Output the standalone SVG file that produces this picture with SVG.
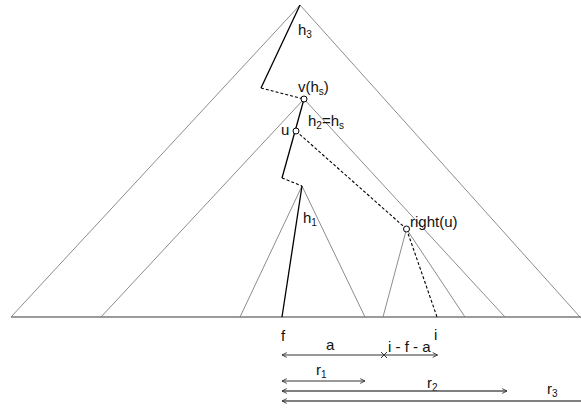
<svg xmlns="http://www.w3.org/2000/svg" width="581" height="410" viewBox="0 0 581 410">
<defs>
<style>
.tri{fill:none;stroke:#8c8c8c;stroke-width:1}
.base{stroke:#7a7a7a;stroke-width:1.5}
.path{fill:none;stroke:#000;stroke-width:1.3}
.dash{fill:none;stroke:#000;stroke-width:1.1;stroke-dasharray:3,2}
.node{fill:#fff;stroke:#000;stroke-width:1}
.arr{stroke:#333;stroke-width:1;fill:none}
.arr2{stroke:#555;stroke-width:1.5;fill:none}
text{font-family:"Liberation Sans",Arial,sans-serif;font-size:15px;fill:#111}
.sub{font-size:10px}
</style>
<marker id="ah" viewBox="0 0 10 10" refX="9" refY="5" markerWidth="6" markerHeight="6" orient="auto-start-reverse" markerUnits="userSpaceOnUse">
<path d="M1,1 L9,5 L1,9" fill="none" stroke="#333" stroke-width="1.5"/>
</marker>
</defs>
<rect width="581" height="410" fill="#fff"/>
<g id="triangles">
<path class="tri" d="M11,317 L300,5 L580,317"/>
<path class="tri" d="M101,317 L304,99 L505,317"/>
<path class="tri" d="M240,317 L302,186 L365,317"/>
<path class="tri" d="M383,317 L406.5,229 L465,317"/>
<line class="base" x1="11" y1="317" x2="581" y2="317"/>
</g>
<g id="connectors">
<polyline class="path" points="300,5 261,88"/>
<line class="dash" x1="261" y1="88" x2="304" y2="99"/>
<polyline class="path" points="304,99 282,178"/>
<line class="dash" x1="282" y1="178" x2="302" y2="186"/>
<line class="path" x1="302" y1="186" x2="282" y2="317"/>
<line class="dash" x1="296" y1="131" x2="406.5" y2="229"/>
<line class="dash" x1="406.5" y1="229" x2="437" y2="317"/>
</g>
<g id="nodes">
<g id="v"><circle class="node" cx="304" cy="99" r="3"/><text x="298" y="92">v(h<tspan class="sub" dy="3">s</tspan><tspan dy="-3">)</tspan></text></g>
<g id="u"><circle class="node" cx="296" cy="131" r="3"/><text x="281" y="135">u</text></g>
<g id="rightu"><circle class="node" cx="406.5" cy="229" r="3"/><text x="410" y="227">right(u)</text></g>
</g>
<g id="labels">
<text x="298" y="35">h<tspan class="sub" dy="3">3</tspan></text>
<text x="308" y="126">h<tspan class="sub" dy="3">2</tspan><tspan dy="-3">=h</tspan><tspan class="sub" dy="3">s</tspan></text>
<text x="303" y="223">h<tspan class="sub" dy="3">1</tspan></text>
<text x="281" y="341">f</text>
<text x="434" y="340">i</text>
<text x="326" y="350">a</text>
<text x="388" y="352">i - f - a</text>
<text x="316" y="375">r<tspan class="sub" dy="3">1</tspan></text>
<text x="427" y="388">r<tspan class="sub" dy="3">2</tspan></text>
<text x="547" y="394">r<tspan class="sub" dy="3">3</tspan></text>
</g>
<g id="arrows">
<line class="arr" x1="282" y1="355" x2="384" y2="355" marker-start="url(#ah)"/>
<line class="arr" x1="384" y1="355" x2="437.5" y2="355" marker-end="url(#ah)"/>
<path d="M381,352 L387,358 M387,352 L381,358" stroke="#333" stroke-width="1"/>
<line class="arr" x1="282" y1="381" x2="365" y2="381" marker-start="url(#ah)" marker-end="url(#ah)"/>
<line class="arr2" x1="282" y1="391" x2="507" y2="391" marker-start="url(#ah)" marker-end="url(#ah)"/>
<line class="arr2" x1="282" y1="401" x2="581" y2="401" marker-start="url(#ah)"/>
</g>
</svg>
